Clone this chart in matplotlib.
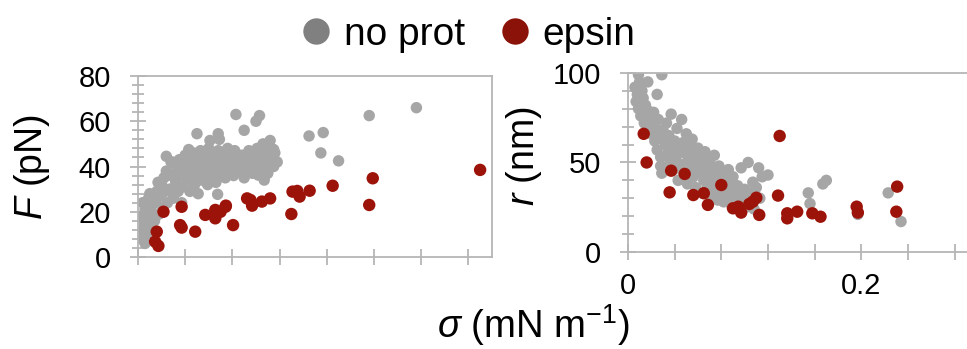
import numpy as np
import matplotlib.pyplot as plt
from matplotlib.ticker import MultipleLocator, FuncFormatter

plt.rcParams['font.family'] = ['Liberation Sans', 'DejaVu Sans']
plt.rcParams['mathtext.fontset'] = 'custom'
plt.rcParams['mathtext.rm'] = 'Liberation Sans'
plt.rcParams['mathtext.it'] = 'Liberation Sans:italic'

# (sigma in mN/m, F in pN)
noprot_F = np.array([
    [0.003, 8], [0.004, 12], [0.005, 15], [0.003, 18], [0.006, 21], [0.004, 24],
    [0.007, 10], [0.008, 17], [0.009, 26], [0.006, 6], [0.010, 13], [0.011, 20],
    [0.012, 23], [0.010, 28], [0.014, 16], [0.015, 25], [0.016, 29], [0.018, 19],
    [0.019, 27], [0.020, 32], [0.021, 22], [0.022, 35], [0.023, 29], [0.025, 24],
    [0.024, 38], [0.017, 33], [0.027, 30], [0.028, 36], [0.029, 42], [0.030, 26],
    [0.032, 33], [0.033, 39], [0.034, 29], [0.035, 43], [0.036, 36], [0.038, 31],
    [0.039, 40], [0.040, 45], [0.037, 24], [0.042, 34], [0.043, 38], [0.044, 29],
    [0.045, 42], [0.046, 36], [0.047, 46], [0.048, 32], [0.049, 40], [0.050, 44],
    [0.051, 28], [0.052, 37], [0.053, 47], [0.054, 34], [0.055, 41], [0.057, 38],
    [0.058, 44], [0.059, 32], [0.060, 48], [0.061, 36], [0.062, 42], [0.064, 39],
    [0.065, 45], [0.066, 33], [0.067, 41], [0.068, 47], [0.069, 37], [0.070, 43],
    [0.072, 39], [0.073, 46], [0.074, 35], [0.075, 42], [0.076, 48], [0.078, 38],
    [0.079, 44], [0.080, 41], [0.081, 36], [0.082, 47], [0.084, 40], [0.085, 43],
    [0.087, 38], [0.088, 45], [0.089, 41], [0.090, 35], [0.092, 43], [0.093, 39],
    [0.094, 47], [0.096, 42], [0.097, 37], [0.098, 44], [0.099, 40], [0.101, 48],
    [0.102, 43], [0.104, 39], [0.105, 46], [0.106, 50], [0.108, 41], [0.109, 45],
    [0.110, 37], [0.112, 44], [0.113, 48], [0.115, 40], [0.116, 46], [0.118, 42],
    [0.107, 34], [0.083, 63], [0.103, 62.5], [0.100, 60], [0.090, 56], [0.050, 54.5],
    [0.068, 54.5], [0.069, 52], [0.061, 51.5], [0.043, 47.5], [0.024, 44.5],
    [0.028, 42], [0.112, 51.5], [0.115, 47.5], [0.145, 53.5], [0.157, 55],
    [0.155, 46], [0.170, 42.5], [0.196, 62.5], [0.236, 66], [0.0675, 27.7],
    [0.098, 37.7], [0.102, 36.2],
])

epsin_F = np.array([
    [0.0216, 20], [0.037, 22.2], [0.0357, 14.1], [0.037, 13], [0.0159, 11.2],
    [0.0145, 6.8], [0.0173, 4.9], [0.0485, 11.2], [0.057, 18.6], [0.0655, 20.8],
    [0.0655, 17.1], [0.0742, 22.2], [0.070, 20], [0.0745, 22.7], [0.0806, 14.1],
    [0.0925, 25.9], [0.0953, 25.2], [0.0967, 22.7], [0.105, 24.5], [0.112, 25.9],
    [0.130, 19], [0.131, 28.9], [0.135, 29.2], [0.137, 26.7], [0.1455, 29.3],
    [0.165, 31.5], [0.196, 23], [0.199, 34.8], [0.290, 38.5],
])

# (sigma in mN/m, r in nm)
noprot_r = np.array([
    [0.006, 92], [0.008, 88], [0.010, 95], [0.007, 84], [0.012, 90], [0.009, 80],
    [0.013, 86], [0.011, 76], [0.015, 82], [0.014, 72], [0.017, 79], [0.018, 70],
    [0.019, 75], [0.020, 66], [0.021, 73], [0.022, 78], [0.023, 62], [0.024, 69],
    [0.025, 57], [0.026, 74], [0.027, 64], [0.028, 53], [0.029, 44], [0.030, 68],
    [0.028, 48], [0.032, 60], [0.033, 72], [0.034, 55], [0.035, 65], [0.036, 50],
    [0.037, 77], [0.038, 58], [0.039, 46], [0.040, 62], [0.041, 53], [0.042, 69],
    [0.043, 40], [0.044, 57], [0.045, 49], [0.046, 74], [0.047, 61], [0.048, 44],
    [0.049, 55], [0.050, 66], [0.051, 38], [0.052, 51], [0.053, 59], [0.054, 47],
    [0.055, 63], [0.056, 42], [0.057, 54], [0.058, 36], [0.059, 49], [0.060, 58],
    [0.062, 45], [0.063, 52], [0.064, 33], [0.065, 40], [0.066, 56], [0.067, 47],
    [0.068, 37], [0.069, 43], [0.070, 51], [0.071, 31], [0.072, 39], [0.073, 46],
    [0.074, 54], [0.075, 35], [0.076, 42], [0.077, 29], [0.078, 48], [0.079, 37],
    [0.080, 33], [0.081, 44], [0.082, 28], [0.083, 40], [0.085, 35], [0.086, 46],
    [0.087, 30], [0.088, 38], [0.089, 26], [0.090, 42], [0.092, 33], [0.093, 29],
    [0.094, 37], [0.096, 27], [0.097, 47], [0.098, 31], [0.100, 35], [0.101, 25],
    [0.103, 50], [0.104, 33], [0.106, 29], [0.107, 39], [0.108, 24], [0.110, 36],
    [0.112, 47], [0.113, 30], [0.115, 42], [0.029, 99], [0.009, 99], [0.017, 95],
    [0.025, 88], [0.1545, 33], [0.156, 27], [0.167, 38], [0.170, 40], [0.223, 33],
    [0.234, 17], [0.197, 21], [0.120, 43],
])

epsin_r = np.array([
    [0.0135, 66], [0.016, 50], [0.037, 45.4], [0.0357, 33.3], [0.0486, 43.6],
    [0.056, 31.8], [0.065, 32.8], [0.0685, 26.3], [0.080, 37.4], [0.090, 24.4],
    [0.0945, 25.3], [0.097, 22], [0.104, 26.8], [0.107, 28.1], [0.110, 30.3],
    [0.1125, 20.7], [0.1286, 31.5], [0.130, 64.8], [0.1365, 21.6], [0.1365, 18.8],
    [0.145, 22.5], [0.158, 21.6], [0.165, 19.7], [0.196, 25.3], [0.197, 22],
    [0.2307, 36.5], [0.230, 22.5],
])

gray = '#a6a6a6'
red = '#9c1309'
spine_col = '#b5b5b5'

fig = plt.figure(figsize=(9.67, 3.49), dpi=100)
ax1 = fig.add_axes([0.1427, 0.2636, 0.366, 0.5186])
ax2 = fig.add_axes([0.6494, 0.278, 0.362, 0.513])

ax1.scatter(noprot_F[:, 0], noprot_F[:, 1], s=68, color=gray, edgecolors='none', zorder=2)
ax1.scatter(epsin_F[:, 0], epsin_F[:, 1], s=80, color=red, edgecolors='none', zorder=3)
ax2.scatter(noprot_r[:, 0], noprot_r[:, 1], s=68, color=gray, edgecolors='none', zorder=2)
ax2.scatter(epsin_r[:, 0], epsin_r[:, 1], s=80, color=red, edgecolors='none', zorder=3)

for ax in (ax1, ax2):
    ax.set_xlim(0, 0.3)
    ax.xaxis.set_major_locator(MultipleLocator(0.04))
    for sp in ax.spines.values():
        sp.set_color(spine_col)
        sp.set_linewidth(1.3)
    ax.tick_params(which='both', direction='inout', color=spine_col, width=1.3,
                   labelsize=21, pad=14)
    ax.tick_params(which='major', length=11)
    ax.tick_params(which='minor', length=8)
    ax.tick_params(axis='x', pad=9)

ax1.set_ylim(0, 80)
ax1.yaxis.set_major_locator(MultipleLocator(20))
ax1.yaxis.set_minor_locator(MultipleLocator(4))
ax1.set_xticklabels([])

ax2.set_ylim(0, 100)
ax2.yaxis.set_major_locator(MultipleLocator(50))
ax2.yaxis.set_minor_locator(MultipleLocator(10))
ax2.xaxis.set_major_formatter(FuncFormatter(
    lambda v, p: '0' if abs(v) < 1e-9 else ('0.2' if abs(v - 0.2) < 1e-9 else '')))

ax1.set_ylabel(r'$\it{F}$ (pN)', fontsize=27, labelpad=19)
ax2.set_ylabel(r'$\it{r}$ (nm)', fontsize=27)
ax2.yaxis.set_label_coords(-0.24, 0.535)
fig.text(0.552, 0.068, r'$\sigma$ (mN m$^{-1}$)', fontsize=27.5, ha='center', va='center')

h1 = plt.Line2D([], [], ls='none', marker='o', ms=19, color='#808080', mec='none')
h2 = plt.Line2D([], [], ls='none', marker='o', ms=19, color='#8b1208', mec='none')
fig.legend([h1, h2], ['no prot', 'epsin'], loc='center', bbox_to_anchor=(0.482, 0.9),
           ncol=2, frameon=False, fontsize=28, handletextpad=0.2, columnspacing=0.8,
           handlelength=1.0)

fig.savefig('out.png', dpi=100)
